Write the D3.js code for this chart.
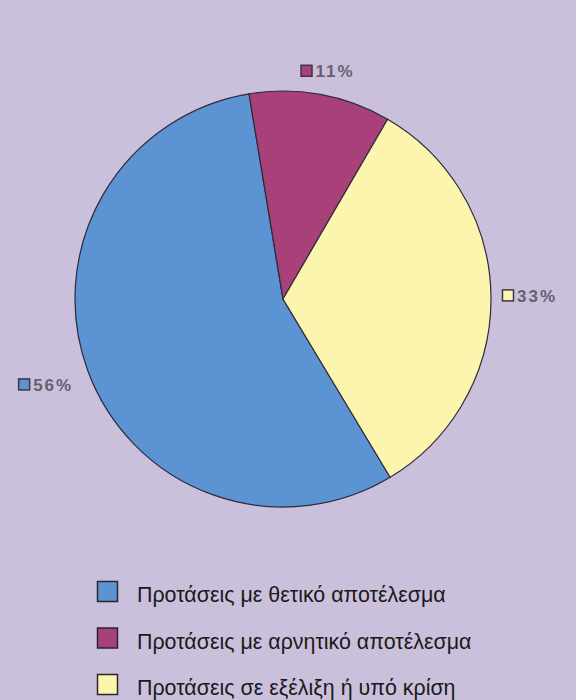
<!DOCTYPE html>
<html>
<head>
<meta charset="utf-8">
<script src="https://cdn.jsdelivr.net/npm/d3@7"></script>
<style>
  body { margin: 0; background: #cbc0dc; }
  svg { display: block; }
</style>
</head>
<body>
<svg id="chart" width="576" height="700"></svg>
<script>
// data, legend order
var categories = ["Προτάσεις με θετικό αποτέλεσμα", "Προτάσεις με αρνητικό αποτέλεσμα", "Προτάσεις σε εξέλιξη ή υπό κρίση"];
var values = [56, 11, 33];
var colors = ["#5b93d3", "#a8407a", "#fbf5ad"];

var svg = d3.select("#chart");
var width = 576, height = 700;
var cx = 283, cy = 299, radius = 208;

svg.append("rect").attr("width", width).attr("height", height).attr("fill", "#cbc0dc");

var startA = 149 * Math.PI / 180;
var pie = d3.pie().sort(null).value(function(d){ return d; })
	.startAngle(startA).endAngle(startA + 2 * Math.PI);
var arcs = pie(values);

var arc = d3.arc().innerRadius(0).outerRadius(radius);
var labelArc = d3.arc().innerRadius(radius + 22).outerRadius(radius + 22);

var g = svg.append("g").attr("transform", "translate(" + cx + "," + cy + ")");

g.selectAll("path.slice")
	.data(arcs).enter()
	.append("path")
	.attr("class", "slice")
	.attr("d", arc)
	.attr("fill", function(d, i){ return colors[i]; })
	.attr("stroke", "#2e2a3a")
	.attr("stroke-width", 1.2);

// data labels
var lbl = g.selectAll("g.lbl")
	.data(arcs).enter()
	.append("g")
	.attr("class", "lbl")
	.attr("transform", function(d){
		var c = labelArc.centroid(d);
		var mid = (d.startAngle + d.endAngle) / 2;
		var s = Math.sin(mid);
		var x, y = c[1] - 2;
		if (s < -0.3) { x = c[0] - 49; y = c[1] + 6; }
		else if (s > 0.3) x = c[0] - 11;
		else x = c[0] - 24;
		return "translate(" + x + "," + y + ")";
	});

lbl.append("rect")
	.attr("x", 0.5).attr("y", -5.5)
	.attr("width", 11).attr("height", 11)
	.attr("fill", function(d, i){ return colors[i]; })
	.attr("stroke", "#3a3548").attr("stroke-width", 1.5);

lbl.append("text")
	.attr("x", 15).attr("y", 6.5)
	.attr("font-family", "Liberation Sans, Arial, sans-serif")
	.attr("font-size", 17)
	.attr("font-weight", "bold")
	.attr("letter-spacing", 2)
	.attr("fill", "#64606e")
	.text(function(d){ return d.data + "%"; });

// legend
var legend = svg.append("g").attr("transform", "translate(97,581)");
var rowH = 46.5;
var item = legend.selectAll("g.item")
	.data(categories).enter()
	.append("g")
	.attr("class", "item")
	.attr("transform", function(d, i){ return "translate(0," + (i * rowH) + ")"; });

item.append("rect")
	.attr("x", 0.5).attr("y", 0.5)
	.attr("width", 20).attr("height", 20)
	.attr("fill", function(d, i){ return colors[i]; })
	.attr("stroke", "#2a2633").attr("stroke-width", 1.5);

item.append("text")
	.attr("x", 40).attr("y", 21)
	.attr("font-family", "Liberation Sans, Arial, sans-serif")
	.attr("font-size", 21.4)
	.attr("fill", "#1a1a1a")
	.text(function(d){ return d; });
</script>
</body>
</html>
